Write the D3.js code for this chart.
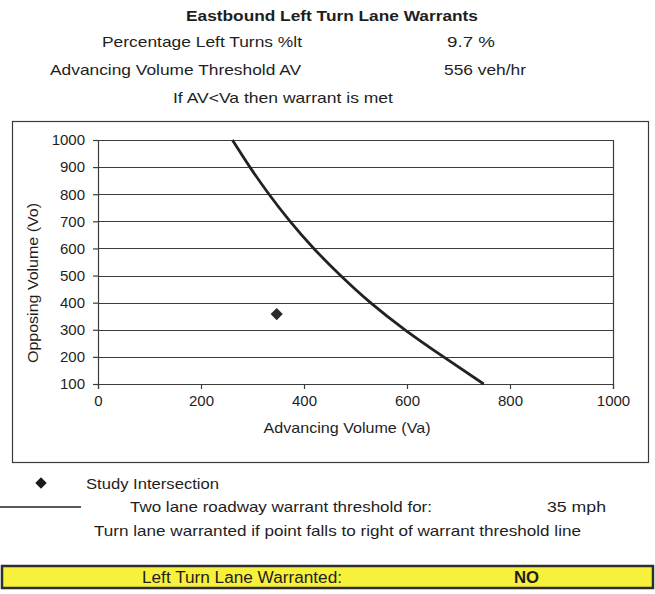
<!DOCTYPE html>
<html>
<head>
<meta charset="utf-8">
<title>Eastbound Left Turn Lane Warrants</title>
<script src="https://cdn.jsdelivr.net/npm/d3@7"></script>
<style>
  body { margin: 0; background: #ffffff; }
  svg { display: block; font-family: 'Liberation Sans', Arial, sans-serif; }
</style>
</head>
<body>
<svg id="chart" width="655" height="594"></svg>
<script>
// Warrant threshold curve for a two lane roadway at 35 mph
const thresholdVa = [261, 295, 332, 373, 419, 471, 529, 596, 671, 749];
const thresholdVo = [1000, 900, 800, 700, 600, 500, 400, 300, 200, 100];

// Study intersection point
const studyVa = [347];
const studyVo = [358];

// Axis ticks
const xTicks = [0, 200, 400, 600, 800, 1000];
const yTicks = [100, 200, 300, 400, 500, 600, 700, 800, 900, 1000];

// Header values
const percentLeftTurns = 9.7;
const advancingThreshold = 556;
const speedMph = 35;
const warranted = 'NO';

const ink = '#1e1e1e';
const svg = d3.select('#chart');

// Helper that writes a text stretched to the width seen in the scan
function label(x, y, str, size, width, opts = {}) {
  const t = svg
    .append('text')
    .attr('x', x)
    .attr('y', y)
    .attr('fill', ink)
    .style('font-size', size + 'px')
    .style('font-weight', opts.bold ? 'bold' : 'normal')
    .text(str);
  if (width) {
    t.attr('textLength', width).attr('lengthAdjust', 'spacingAndGlyphs');
  }
  return t;
}

// Header block
label(186, 21, 'Eastbound Left Turn Lane Warrants', 15, 292, { bold: true });
label(102, 47, 'Percentage Left Turns %lt', 15, 200);
label(447, 47, `${percentLeftTurns} %`, 15, 48);
label(50, 75, 'Advancing Volume Threshold AV', 15, 251);
label(444, 75, `${advancingThreshold} veh/hr`, 15, 82);
label(173, 103, 'If AV<Va then warrant is met', 15, 220);

// Chart frame
svg
  .append('rect')
  .attr('x', 12.5)
  .attr('y', 121.5)
  .attr('width', 636)
  .attr('height', 341)
  .attr('fill', 'none')
  .attr('stroke', '#3a3a3a')
  .attr('stroke-width', 1.2);

// Plot area
const margin = { left: 98, top: 140 };
const width = 515;
const height = 244;

const g = svg
  .append('g')
  .attr('transform', `translate(${margin.left},${margin.top})`);

const xScale = d3.scaleLinear().domain([0, 1000]).range([0, width]);
const yScale = d3.scaleLinear().domain([100, 1000]).range([height, 0]);

// Horizontal gridlines
g.append('g')
  .selectAll('line')
  .data(yTicks)
  .enter()
  .append('line')
  .attr('x1', 0)
  .attr('x2', width)
  .attr('y1', (d) => Math.round(yScale(d)) + 0.5)
  .attr('y2', (d) => Math.round(yScale(d)) + 0.5)
  .attr('stroke', '#3c3c3c')
  .attr('stroke-width', 1.2);

// Right border of the plot area
g.append('line')
  .attr('x1', width + 0.5)
  .attr('x2', width + 0.5)
  .attr('y1', 0)
  .attr('y2', height)
  .attr('stroke', '#3c3c3c')
  .attr('stroke-width', 1.2);

// X axis
const xAxisGroup = g
  .append('g')
  .attr('transform', `translate(0,${height})`)
  .call(
    d3.axisBottom(xScale).tickValues(xTicks).tickFormat(d3.format('d'))
      .tickSize(5).tickPadding(6)
  );

// Y axis
const yAxisGroup = g
  .append('g')
  .call(
    d3.axisLeft(yScale).tickValues(yTicks).tickFormat(d3.format('d'))
      .tickSize(5).tickPadding(8)
  );

[xAxisGroup, yAxisGroup].forEach((ax) => {
  ax.select('.domain').attr('stroke', '#3c3c3c').attr('stroke-width', 1.2);
  ax.selectAll('.tick line').attr('stroke', '#3c3c3c').attr('stroke-width', 1.2);
  ax.selectAll('.tick text')
    .attr('fill', ink)
    .style('font-family', "'Liberation Sans', Arial, sans-serif")
    .style('font-size', '15px');
});

// Axis titles
g.append('text')
  .attr('x', 249)
  .attr('y', 293)
  .attr('text-anchor', 'middle')
  .attr('fill', ink)
  .attr('textLength', 167)
  .attr('lengthAdjust', 'spacingAndGlyphs')
  .style('font-size', '15px')
  .text('Advancing Volume (Va)');

g.append('text')
  .attr('transform', `translate(-60,${143}) rotate(-90)`)
  .attr('text-anchor', 'middle')
  .attr('fill', ink)
  .attr('textLength', 160)
  .attr('lengthAdjust', 'spacingAndGlyphs')
  .style('font-size', '15px')
  .text('Opposing Volume (Vo)');

// Threshold curve
const curvePoints = thresholdVa.map((va, i) => [va, thresholdVo[i]]);
const line = d3
  .line()
  .x((d) => xScale(d[0]))
  .y((d) => yScale(d[1]))
  .curve(d3.curveNatural);

g.append('path')
  .datum(curvePoints)
  .attr('d', line)
  .attr('fill', 'none')
  .attr('stroke', '#222222')
  .attr('stroke-width', 2.8);

// Study intersection marker
const diamond = d3.symbol().type(d3.symbolDiamond2).size(95);
g.selectAll('.study')
  .data(studyVa.map((va, i) => [va, studyVo[i]]))
  .enter()
  .append('path')
  .attr('class', 'study')
  .attr('d', diamond)
  .attr('transform', (d) => `translate(${xScale(d[0])},${yScale(d[1])})`)
  .attr('fill', '#2a2a2a');

// Legend
svg
  .append('path')
  .attr('d', d3.symbol().type(d3.symbolDiamond2).size(85))
  .attr('transform', 'translate(41,483)')
  .attr('fill', '#1a1a1a');
label(86, 489, 'Study Intersection', 15, 133);

svg
  .append('line')
  .attr('x1', 0)
  .attr('x2', 81)
  .attr('y1', 507)
  .attr('y2', 507)
  .attr('stroke', '#222222')
  .attr('stroke-width', 1.5);
label(130, 512, 'Two lane roadway warrant threshold for:', 15, 302);
label(547, 512, `${speedMph} mph`, 15, 59);
label(94, 536, 'Turn lane warranted if point falls to right of warrant threshold line', 15, 487);

// Result bar
svg
  .append('rect')
  .attr('x', 2)
  .attr('y', 566)
  .attr('width', 651)
  .attr('height', 22)
  .attr('fill', '#f8f13c')
  .attr('stroke', '#2e2e2e')
  .attr('stroke-width', 2.5);
label(142, 583, 'Left Turn Lane Warranted:', 16, 200);
label(514, 583, warranted, 16, 25, { bold: true });
</script>
</body>
</html>
